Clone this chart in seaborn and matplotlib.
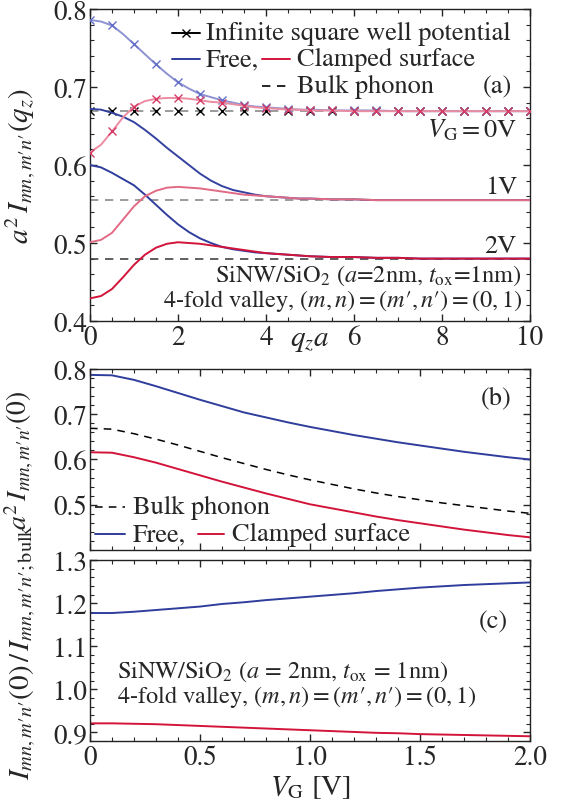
import numpy as np
import matplotlib
matplotlib.use("Agg")
import matplotlib.pyplot as plt
from matplotlib.ticker import MultipleLocator
import seaborn as sns

# ---- panel (a): overlap integral vs q_z a, for V_G = 0, 1, 2 V
q = [0, 0.25, 0.5, 0.75, 1.0, 1.25, 1.5, 1.75, 2.0, 2.25, 2.5, 2.75, 3.0, 3.25, 3.5, 3.75,
     4.0, 4.25, 4.5, 4.75, 5.0, 5.5, 6.0, 6.5, 7.0, 7.5, 8.0, 8.5, 9.0, 9.5, 10.0]

free_0V = [0.786, 0.784, 0.779, 0.768, 0.755, 0.742, 0.729, 0.717, 0.706, 0.698, 0.691, 0.687,
           0.683, 0.680, 0.677, 0.675, 0.674, 0.673, 0.672, 0.671, 0.671, 0.670, 0.670, 0.670,
           0.669, 0.669, 0.669, 0.669, 0.669, 0.669, 0.669]
clamped_0V = [0.616, 0.626, 0.643, 0.661, 0.675, 0.682, 0.685, 0.686, 0.686, 0.685, 0.683, 0.681,
              0.680, 0.678, 0.676, 0.674, 0.673, 0.672, 0.671, 0.671, 0.670, 0.670, 0.669, 0.669,
              0.669, 0.669, 0.669, 0.669, 0.669, 0.669, 0.669]
free_1V = [0.672, 0.671, 0.667, 0.662, 0.655, 0.645, 0.634, 0.622, 0.611, 0.600, 0.589, 0.580,
           0.573, 0.568, 0.565, 0.562, 0.560, 0.559, 0.558, 0.557, 0.557, 0.556, 0.556, 0.555,
           0.555, 0.555, 0.555, 0.555, 0.555, 0.555, 0.555]
clamped_1V = [0.501, 0.504, 0.513, 0.530, 0.547, 0.560, 0.567, 0.571, 0.572, 0.571, 0.570, 0.568,
              0.566, 0.564, 0.562, 0.561, 0.560, 0.559, 0.558, 0.557, 0.557, 0.556, 0.556, 0.555,
              0.555, 0.555, 0.555, 0.555, 0.555, 0.555, 0.555]
free_2V = [0.600, 0.597, 0.590, 0.582, 0.574, 0.562, 0.549, 0.536, 0.524, 0.514, 0.506, 0.500,
           0.495, 0.492, 0.490, 0.488, 0.487, 0.486, 0.485, 0.484, 0.483, 0.482, 0.482, 0.481,
           0.481, 0.480, 0.480, 0.480, 0.480, 0.480, 0.480]
clamped_2V = [0.429, 0.432, 0.441, 0.456, 0.472, 0.485, 0.494, 0.499, 0.501, 0.500, 0.499, 0.497,
              0.495, 0.493, 0.491, 0.489, 0.487, 0.486, 0.485, 0.484, 0.483, 0.482, 0.482, 0.481,
              0.481, 0.480, 0.480, 0.480, 0.480, 0.480, 0.480]
bulk_levels = [0.669, 0.555, 0.480]
gate_labels = [r"$V_{\rm G} = 0$V", "1V", "2V"]

# infinite square well points (0 V), every 0.5 in q_z a
q_isw = [0, 0.5, 1.0, 1.5, 2.0, 2.5, 3.0, 3.5, 4.0, 4.5, 5.0, 5.5, 6.0, 6.5, 7.0, 7.5,
         8.0, 8.5, 9.0, 9.5, 10.0]

# ---- panels (b), (c): vs gate voltage
vg = [0.0, 0.1, 0.2, 0.3, 0.4, 0.5, 0.6, 0.7, 0.8, 0.9, 1.0, 1.1, 1.2, 1.3, 1.4, 1.5, 1.6,
      1.7, 1.8, 1.9, 2.0]
free_q0 = [0.787, 0.786, 0.776, 0.762, 0.747, 0.732, 0.718, 0.704, 0.693, 0.682, 0.672, 0.663,
           0.654, 0.646, 0.638, 0.631, 0.624, 0.617, 0.611, 0.605, 0.600]
bulk_q0 = [0.669, 0.667, 0.657, 0.645, 0.632, 0.618, 0.604, 0.591, 0.578, 0.566, 0.555, 0.545,
           0.535, 0.526, 0.518, 0.511, 0.504, 0.498, 0.492, 0.486, 0.481]
clamped_q0 = [0.616, 0.615, 0.605, 0.593, 0.579, 0.565, 0.551, 0.538, 0.525, 0.513, 0.501, 0.492,
              0.483, 0.474, 0.466, 0.459, 0.452, 0.445, 0.439, 0.433, 0.428]
free_ratio = [1.177, 1.177, 1.180, 1.184, 1.188, 1.192, 1.198, 1.202, 1.207, 1.211, 1.215, 1.219,
              1.223, 1.228, 1.232, 1.236, 1.239, 1.242, 1.244, 1.246, 1.248]
clamped_ratio = [0.921, 0.921, 0.920, 0.919, 0.917, 0.915, 0.913, 0.911, 0.909, 0.907, 0.905,
                 0.903, 0.901, 0.899, 0.898, 0.896, 0.895, 0.894, 0.893, 0.892, 0.891]

BLUE = "#2f3d9c"
RED = "#d2143a"
free_cols = ["#8d92d2", "#34429f", BLUE]
clamp_cols = ["#ec8ca2", "#e26a84", RED]
FS = 19      # legend / panel text
FS_NOTE = 17.5
FS_LAB = 21

# indices written with \prime so the primes sit close to the letters
IDX = r"mn,m\prime n\prime"
VALLEY = r"4-fold valley, $(m, n) = (m\prime, n\prime) = (0, 1)$"

sns.set_theme(style="ticks")
plt.rcParams.update({
    "font.family": ["STIXGeneral", "DejaVu Sans"],
    "mathtext.fontset": "stix",
    "font.size": FS,
    "axes.linewidth": 1.0,
    "axes.edgecolor": "#222222",
    "xtick.direction": "in", "ytick.direction": "in",
    "xtick.top": True, "ytick.right": True,
    "xtick.major.size": 5, "ytick.major.size": 5,
    "xtick.minor.size": 2.6, "ytick.minor.size": 2.6,
    "xtick.major.width": 1.0, "ytick.major.width": 1.0,
    "xtick.minor.width": 0.8, "ytick.minor.width": 0.8,
    "xtick.labelsize": 19.5, "ytick.labelsize": 19.5,
    "xtick.major.pad": 3, "ytick.major.pad": 2,
})

fig = plt.figure(figsize=(5.73, 8.04), dpi=100)
ax_a = fig.add_axes([0.157, 0.5995, 0.768, 0.388])
ax_b = fig.add_axes([0.157, 0.3147, 0.768, 0.2251])
ax_c = fig.add_axes([0.157, 0.0771, 0.768, 0.2251])

lw = 1.4
dash = (0, (5, 4))
# ---------------- (a)
free_sets = [free_0V, free_1V, free_2V]
clamp_sets = [clamped_0V, clamped_1V, clamped_2V]
bulk_cols = ["#8a8a8a", "#8a8a8a", "#444444"]
mark_idx = [i for i, v in enumerate(q) if (v * 2) == int(v * 2)]

for i in range(3):
    ax_a.axhline(bulk_levels[i], color=bulk_cols[i], lw=1.2, ls=dash, zorder=1)
ax_a.plot(q_isw, [bulk_levels[0]] * len(q_isw), ls="none", marker="x", ms=6, mew=1.0,
          color="black", zorder=2)
for i in range(3):
    kw = dict(marker="x", markevery=mark_idx, ms=6, mew=1.0, mec="#6470c8") if i == 0 else {}
    sns.lineplot(x=q, y=free_sets[i], ax=ax_a, color=free_cols[i], lw=lw, zorder=3, **kw)
for i in range(3):
    kw = dict(marker="x", markevery=mark_idx, ms=6, mew=1.0, mec="#d43c64") if i == 0 else {}
    sns.lineplot(x=q, y=clamp_sets[i], ax=ax_a, color=clamp_cols[i], lw=lw, zorder=4, **kw)

ax_a.set_xlim(0, 10)
ax_a.set_ylim(0.4, 0.8)
ax_a.xaxis.set_major_locator(MultipleLocator(2))
ax_a.xaxis.set_minor_locator(MultipleLocator(0.5))
ax_a.yaxis.set_major_locator(MultipleLocator(0.1))
ax_a.yaxis.set_minor_locator(MultipleLocator(0.02))
ax_a.set_xlabel(r"$q_z a$", fontsize=FS_LAB)
ax_a.xaxis.set_label_coords(0.5, -0.022)
ax_a.set_ylabel(r"$a^2\, I_{%s}(q_z)$" % IDX, fontsize=FS_LAB)
ax_a.yaxis.set_label_coords(-0.118, 0.5)

# legend (a), drawn by hand
T = ax_a.transAxes
ax_a.plot([0.186, 0.25], [0.923, 0.923], color="black", lw=lw, transform=T)
ax_a.plot([0.218], [0.923], marker="x", ms=6, mew=1.0, color="black", transform=T)
ax_a.text(0.264, 0.923, "Infinite square well potential", transform=T, va="center", fontsize=FS)
ax_a.plot([0.186, 0.25], [0.840, 0.840], color=BLUE, lw=lw, transform=T)
ax_a.text(0.264, 0.840, "Free,", transform=T, va="center", fontsize=FS)
ax_a.plot([0.39, 0.455], [0.840, 0.840], color=RED, lw=lw, transform=T)
ax_a.text(0.47, 0.840, "Clamped surface", transform=T, va="center", fontsize=FS)
ax_a.plot([0.39, 0.455], [0.753, 0.753], color="black", lw=1.2, ls=dash, transform=T)
ax_a.text(0.47, 0.753, "Bulk phonon", transform=T, va="center", fontsize=FS)
ax_a.text(0.96, 0.753, "(a)", transform=T, va="center", ha="right", fontsize=FS)
for lab, y in zip(gate_labels, [0.615, 0.429, 0.240]):
    ax_a.text(0.97, y, lab, transform=T, va="center", ha="right", fontsize=FS)
ax_a.text(0.982, 0.147, r"SiNW/SiO$_2$ ($a$=2nm, $t_{\rm ox}$=1nm)", transform=T,
          va="center", ha="right", fontsize=FS_NOTE)
ax_a.text(0.982, 0.066, VALLEY, transform=T, va="center", ha="right", fontsize=FS_NOTE)

# ---------------- (b)
sns.lineplot(x=vg, y=bulk_q0, ax=ax_b, color="black", lw=1.1, ls=dash)
sns.lineplot(x=vg, y=free_q0, ax=ax_b, color=BLUE, lw=lw)
sns.lineplot(x=vg, y=clamped_q0, ax=ax_b, color=RED, lw=lw)
ax_b.set_xlim(0, 2)
ax_b.set_ylim(0.4, 0.8)
ax_b.xaxis.set_major_locator(MultipleLocator(0.5))
ax_b.xaxis.set_minor_locator(MultipleLocator(0.1))
ax_b.yaxis.set_minor_locator(MultipleLocator(0.02))
ax_b.set_yticks([0.5, 0.6, 0.7, 0.8])
ax_b.tick_params(labelbottom=False)
ax_b.set_xlabel("")
ax_b.set_ylabel(r"$a^2\, I_{%s}(0)$" % IDX, fontsize=20)
ax_b.yaxis.set_label_coords(-0.122, 0.5)

T = ax_b.transAxes
ax_b.plot([0.011, 0.08], [0.238, 0.238], color="black", lw=1.1, ls=dash, transform=T)
ax_b.text(0.098, 0.238, "Bulk phonon", transform=T, va="center", fontsize=FS)
ax_b.plot([0.011, 0.08], [0.088, 0.088], color=BLUE, lw=lw, transform=T)
ax_b.text(0.098, 0.088, "Free,", transform=T, va="center", fontsize=FS)
ax_b.plot([0.245, 0.305], [0.088, 0.088], color=RED, lw=lw, transform=T)
ax_b.text(0.322, 0.088, "Clamped surface", transform=T, va="center", fontsize=FS)
ax_b.text(0.959, 0.845, "(b)", transform=T, va="center", ha="right", fontsize=FS)

# ---------------- (c)
sns.lineplot(x=vg, y=free_ratio, ax=ax_c, color=BLUE, lw=lw)
sns.lineplot(x=vg, y=clamped_ratio, ax=ax_c, color=RED, lw=lw)
ax_c.set_xlim(0, 2)
ax_c.set_ylim(0.88, 1.3)
ax_c.xaxis.set_minor_locator(MultipleLocator(0.1))
ax_c.yaxis.set_minor_locator(MultipleLocator(0.02))
ax_c.set_xticks([0, 0.5, 1.0, 1.5, 2.0])
ax_c.set_xticklabels(["0", "0.5", "1.0", "1.5", "2.0"])
ax_c.set_yticks([0.9, 1.0, 1.1, 1.2, 1.3])
ax_c.set_yticklabels(["0.9", "1.0", "1.1", "1.2", "1.3"])
ax_c.set_xlabel(r"$V_{\rm G}$ [V]", fontsize=FS_LAB, labelpad=2)
ax_c.set_ylabel(r"$I_{%s}(0)\,/\,I_{%s;\mathrm{bulk}}$" % (IDX, IDX), fontsize=FS_LAB)
ax_c.yaxis.set_label_coords(-0.118, 0.5)

T = ax_c.transAxes
ax_c.text(0.95, 0.663, "(c)", transform=T, va="center", ha="right", fontsize=FS)
ax_c.text(0.061, 0.387, r"SiNW/SiO$_2$ ($a$ = 2nm, $t_{\rm ox}$ = 1nm)", transform=T,
          va="center", ha="left", fontsize=FS_NOTE)
ax_c.text(0.061, 0.249, VALLEY, transform=T, va="center", ha="left", fontsize=FS_NOTE)

for ax in (ax_a, ax_b, ax_c):
    ax.tick_params(which="both", direction="in", top=True, right=True)

fig.savefig("out.png", dpi=100)
